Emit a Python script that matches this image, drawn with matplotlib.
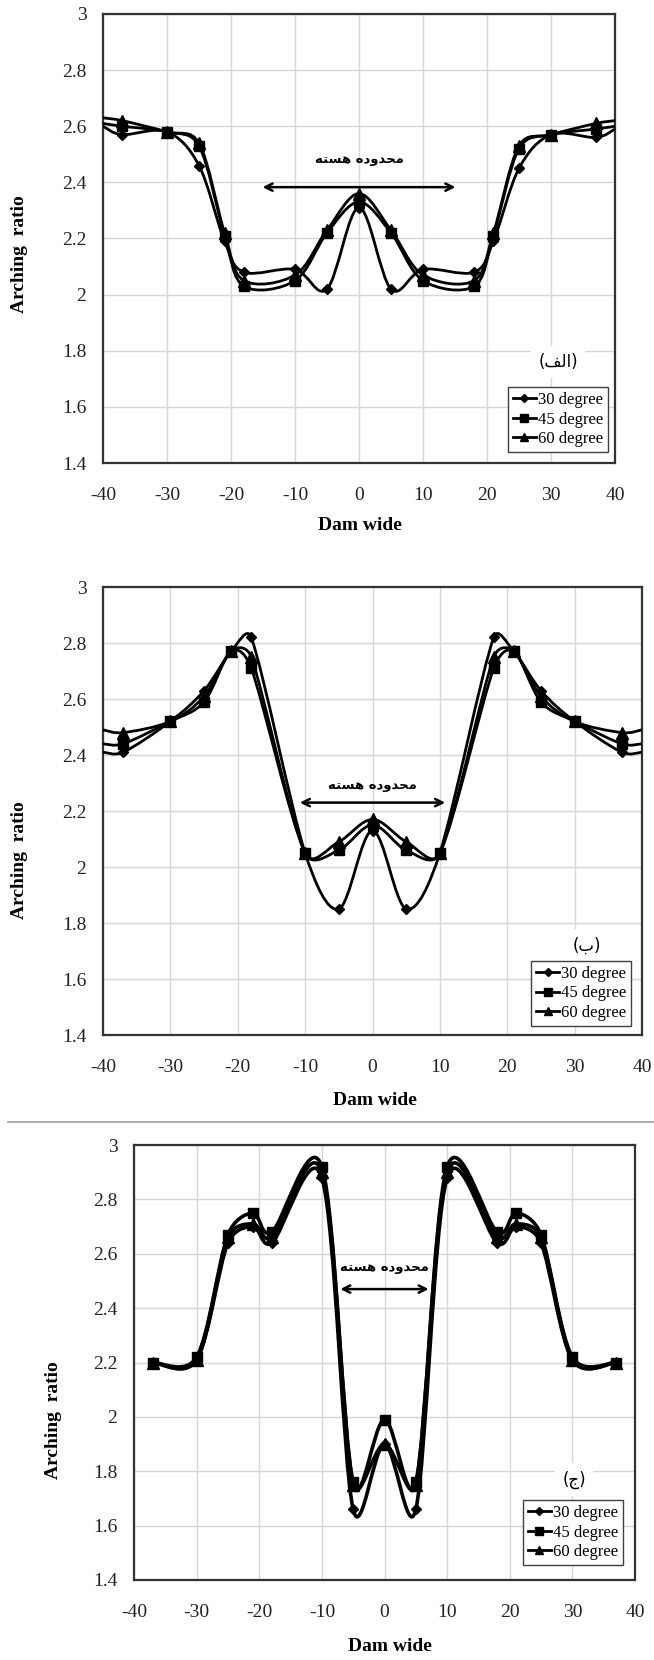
import numpy as np
import matplotlib
matplotlib.use("Agg")
import matplotlib.pyplot as plt
from matplotlib.path import Path
from matplotlib.patches import PathPatch
from matplotlib.lines import Line2D

plt.rcParams["font.family"] = ["Liberation Serif", "DejaVu Sans"]

# dam width positions (edge values at +-40 only continue the lines)
X_AB = [-40, -37, -30, -25, -21, -18, -10, -5, 0, 5, 10, 18, 21, 25, 30, 37, 40]
X_C = [-37, -30, -25, -21, -18, -10, -5, 0, 5, 10, 18, 21, 25, 30, 37]

# panel (a)
A_30 = [2.60, 2.57, 2.58, 2.46, 2.19, 2.08, 2.09, 2.02, 2.31, 2.02, 2.09, 2.08, 2.19, 2.45, 2.57, 2.56, 2.59]
A_45 = [2.61, 2.60, 2.58, 2.53, 2.21, 2.03, 2.05, 2.22, 2.33, 2.22, 2.05, 2.03, 2.21, 2.52, 2.57, 2.59, 2.60]
A_60 = [2.63, 2.62, 2.58, 2.54, 2.22, 2.05, 2.07, 2.23, 2.36, 2.23, 2.07, 2.05, 2.22, 2.53, 2.57, 2.61, 2.62]

# panel (b)
B_30 = [2.41, 2.41, 2.52, 2.63, 2.77, 2.82, 2.05, 1.85, 2.13, 1.85, 2.05, 2.82, 2.77, 2.63, 2.52, 2.41, 2.41]
B_45 = [2.44, 2.44, 2.52, 2.59, 2.77, 2.71, 2.05, 2.06, 2.15, 2.06, 2.05, 2.71, 2.77, 2.59, 2.52, 2.44, 2.44]
B_60 = [2.49, 2.48, 2.52, 2.61, 2.77, 2.75, 2.05, 2.09, 2.17, 2.09, 2.05, 2.75, 2.77, 2.61, 2.52, 2.48, 2.49]

# panel (c)
C_30 = [2.20, 2.21, 2.64, 2.70, 2.64, 2.88, 1.66, 1.90, 1.66, 2.88, 2.64, 2.70, 2.64, 2.21, 2.20]
C_45 = [2.20, 2.22, 2.67, 2.75, 2.68, 2.92, 1.76, 1.99, 1.76, 2.92, 2.68, 2.75, 2.67, 2.22, 2.20]
C_60 = [2.20, 2.21, 2.66, 2.71, 2.66, 2.90, 1.75, 1.90, 1.75, 2.90, 2.66, 2.71, 2.66, 2.21, 2.20]

SERIES_LABELS = ["30 degree", "45 degree", "60 degree"]
MARKERS = ["D", "s", "^"]
MARKER_SIZES = [5.5, 7.5, 8]
CORE_LABEL = "محدوده هسته"
PANEL_TAGS = ["الف", "ب", "ج"]
X_TICKS = list(range(-40, 41, 10))
Y_TICKS = [1.4, 1.6, 1.8, 2.0, 2.2, 2.4, 2.6, 2.8, 3.0]
Y_TICK_LABELS = ["1.4", "1.6", "1.8", "2", "2.2", "2.4", "2.6", "2.8", "3"]

# presentation forms: isolated, final, initial, medial
FORMS = {
    "ا": ("\ufe8d", "\ufe8e", None, None),
    "ب": ("\ufe8f", "\ufe90", "\ufe91", "\ufe92"),
    "ت": ("\ufe95", "\ufe96", "\ufe97", "\ufe98"),
    "ج": ("\ufe9d", "\ufe9e", "\ufe9f", "\ufea0"),
    "ح": ("\ufea1", "\ufea2", "\ufea3", "\ufea4"),
    "د": ("\ufea9", "\ufeaa", None, None),
    "س": ("\ufeb1", "\ufeb2", "\ufeb3", "\ufeb4"),
    "ف": ("\ufed1", "\ufed2", "\ufed3", "\ufed4"),
    "ل": ("\ufedd", "\ufede", "\ufedf", "\ufee0"),
    "م": ("\ufee1", "\ufee2", "\ufee3", "\ufee4"),
    "ه": ("\ufee9", "\ufeea", "\ufeeb", "\ufeec"),
    "و": ("\ufeed", "\ufeee", None, None),
}


def shape_rtl(text):
    out = []
    for i, ch in enumerate(text):
        if ch not in FORMS:
            out.append(ch)
            continue
        prev = text[i - 1] if i > 0 else None
        nxt = text[i + 1] if i + 1 < len(text) else None
        join_prev = prev in FORMS and FORMS[prev][2] is not None
        join_next = FORMS[ch][2] is not None and nxt in FORMS
        iso, fin, ini, med = FORMS[ch]
        if join_prev and join_next:
            out.append(med)
        elif join_prev:
            out.append(fin)
        elif join_next:
            out.append(ini)
        else:
            out.append(iso)
    return "".join(reversed(out))


def smooth_path(x, y, sx, sy):
    # excel style smoothed line: bezier with 1/6 tangents, capped at half the segment
    scale = np.array([sx, sy])
    pts = np.column_stack([x, y]).astype(float) * scale
    n = len(pts)
    verts = [pts[0]]
    codes = [Path.MOVETO]
    for i in range(n - 1):
        p0 = pts[i - 1] if i > 0 else pts[i]
        p1, p2 = pts[i], pts[i + 1]
        p3 = pts[i + 2] if i + 2 < n else pts[i + 1]
        d12 = np.hypot(*(p2 - p1))
        t1, t2 = p2 - p0, p3 - p1
        n1, n2 = np.hypot(*t1), np.hypot(*t2)
        f1 = 1 / 6 if n1 / 6 <= d12 / 2 else d12 / (2 * n1)
        f2 = 1 / 6 if n2 / 6 <= d12 / 2 else d12 / (2 * n2)
        verts += [p1 + t1 * f1, p2 - t2 * f2, p2]
        codes += [Path.CURVE4] * 3
    return Path(np.array(verts) / scale, codes)


W, H = 654, 1660
panels = [
    dict(box=(103, 14, 615, 463), x=X_AB, ys=[A_30, A_45, A_60], edge=True, lw=2.0,
         arrow=(15.5, 2.383), text_y=2.48, tag=(31.1, 1.76), leg=(0.986, 0.024),
         ylab=(20, 254), xlab=(360, 526)),
    dict(box=(103, 587, 642, 1035), x=X_AB, ys=[B_30, B_45, B_60], edge=True, lw=2.0,
         arrow=(11.2, 2.23), text_y=2.29, tag=(31.8, 1.72), leg=(0.98, 0.02),
         ylab=(20, 860), xlab=(375, 1100)),
    dict(box=(134, 1145, 635, 1580), x=X_C, ys=[C_30, C_45, C_60], edge=False, lw=2.6,
         arrow=(7.5, 2.47), text_y=2.55, tag=(30.3, 1.77), leg=(0.976, 0.034),
         ylab=(53, 1420), xlab=(390, 1646)),
]

fig = plt.figure(figsize=(W / 100, H / 100), dpi=100)
fig.patch.set_facecolor("white")

for k, p in enumerate(panels):
    l, t, r, b = p["box"]
    ax = fig.add_axes([l / W, 1 - b / H, (r - l) / W, (b - t) / H])
    ax.set_xlim(-40, 40)
    ax.set_ylim(1.4, 3.0)
    ax.set_xticks(X_TICKS)
    ax.set_xticklabels([str(v) for v in X_TICKS])
    ax.set_yticks(Y_TICKS)
    ax.set_yticklabels(Y_TICK_LABELS)
    ax.tick_params(length=0, labelsize=14, colors="#222222")
    ax.tick_params(axis="x", pad=17)
    ax.tick_params(axis="y", pad=12)
    ax.grid(True, color="#d6d6d6", lw=1.0)
    ax.set_axisbelow(True)
    for s in ax.spines.values():
        s.set_color("#333333")
        s.set_linewidth(1.6)

    sx = (r - l) / 80.0
    sy = (b - t) / 1.6
    x = np.array(p["x"], dtype=float)
    for y, m, ms in zip(p["ys"], MARKERS, MARKER_SIZES):
        y = np.array(y, dtype=float)
        ax.add_patch(PathPatch(smooth_path(x, y, sx, sy), fill=False, edgecolor="black",
                               lw=p["lw"], zorder=3))
        sl = slice(1, -1) if p["edge"] else slice(None)
        ax.plot(x[sl], y[sl], linestyle="none", marker=m, ms=ms, color="black",
                markeredgecolor="black", zorder=4)

    handles = [Line2D([], [], color="black", lw=2, marker=m, ms=ms * 0.75)
               for m, ms in zip(MARKERS, MARKER_SIZES)]
    leg = ax.legend(handles, SERIES_LABELS, loc="lower right", bbox_to_anchor=p["leg"],
                    borderaxespad=0, fontsize=12, handlelength=1.4, handletextpad=0.1,
                    labelspacing=0.22, borderpad=0.3, fancybox=False, framealpha=1)
    leg.get_frame().set_edgecolor("#404040")
    leg.get_frame().set_linewidth(1.0)

    half, ay = p["arrow"]
    ax.annotate("", xy=(half, ay), xytext=(-half, ay),
                arrowprops=dict(arrowstyle="<->", color="black", lw=1.8, mutation_scale=13),
                zorder=5)
    ax.text(0, p["text_y"], shape_rtl(CORE_LABEL), ha="center", va="center",
            fontsize=9.5, fontweight="bold", family=["DejaVu Sans"], zorder=5)
    tx, ty = p["tag"]
    ax.text(tx, ty, "(" + shape_rtl(PANEL_TAGS[k]) + ")", ha="center", va="center",
            fontsize=12, family=["DejaVu Sans"], zorder=5,
            bbox=dict(facecolor="white", edgecolor="none", pad=5))

    fig.text(p["ylab"][0] / W, 1 - p["ylab"][1] / H, "Arching  ratio", rotation=90,
             ha="center", va="center", fontsize=14, fontweight="bold")
    fig.text(p["xlab"][0] / W, 1 - p["xlab"][1] / H, "Dam wide",
             ha="center", va="center", fontsize=14, fontweight="bold")

fig.add_artist(Line2D([8 / W, 1], [1 - 1122 / H, 1 - 1122 / H], color="#a0a0a0", lw=1.2,
                      transform=fig.transFigure))

fig.savefig("out.png", dpi=100, facecolor="white")
